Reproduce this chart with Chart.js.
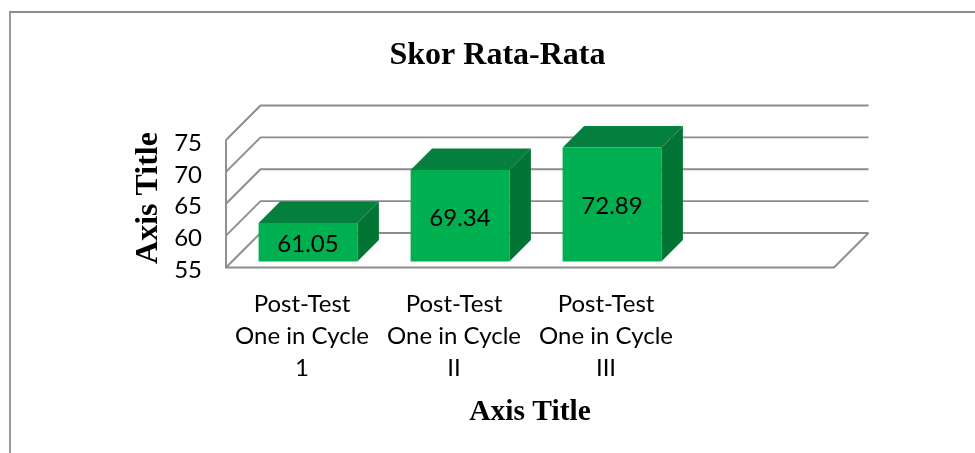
<!DOCTYPE html>
<html>
<head>
<meta charset="utf-8">
<script src="https://cdn.jsdelivr.net/npm/chart.js@4"></script>
<style>
    html, body { margin: 0; padding: 0; background: #fff; overflow: hidden; }
    #frame { position: absolute; left: 9px; top: 11px; right: 0; bottom: 0; border-left: 2px solid #999; border-top: 2px solid #8c8c8c; }
    #chart { position: absolute; left: 0; top: 0; }
</style>
</head>
<body>
<div id="frame"></div>
<canvas id="chart" width="975" height="453"></canvas>
<script>
const categories = [
    ['Post-Test', 'One in Cycle', '1'],
    ['Post-Test', 'One in Cycle', 'II'],
    ['Post-Test', 'One in Cycle', 'III'],
    ''
];
const scores = [61.05, 69.34, 72.89, null];
const yMin = 55;
const yMax = 75;
const yStep = 5;

const WALL_DEPTH = 34.5;
const BAR_INSET = 6;
const BAR_DEPTH = 21.5;
const GRID_COLOR = '#8c8c8c';

function poly(ctx, pts, color) {
    ctx.beginPath();
    ctx.moveTo(pts[0][0], pts[0][1]);
    pts.slice(1).forEach((p) => ctx.lineTo(p[0], p[1]));
    ctx.closePath();
    ctx.fillStyle = color;
    ctx.fill();
}

// Chart.js has no 3D bars, so walls and bar sides are added around the normal bars
const box3d = {
    id: 'box3d',
    afterLayout(chart) {
        // title is centred on the whole picture, not on the padded area
        chart.titleBlock.left = 20;
        chart.titleBlock.right = 975;
        // y tick labels sit slightly under their gridline start
        chart.scales.y.getLabelItems().forEach((item) => {
            item.options.translation[1] += 3;
        });
    },
    beforeDatasetsDraw(chart) {
        const ctx = chart.ctx;
        const a = chart.chartArea;
        const y = chart.scales.y;
        ctx.save();
        ctx.strokeStyle = GRID_COLOR;
        ctx.lineWidth = 1.9;
        y.ticks.forEach((t) => {
            const py = y.getPixelForValue(t.value);
            ctx.beginPath();
            ctx.moveTo(a.left, py);
            ctx.lineTo(a.left + WALL_DEPTH, py - WALL_DEPTH);
            ctx.lineTo(a.right + WALL_DEPTH, py - WALL_DEPTH);
            ctx.stroke();
        });
        // left edge and floor
        ctx.beginPath();
        ctx.moveTo(a.left, a.top);
        ctx.lineTo(a.left, a.bottom);
        ctx.lineTo(a.right, a.bottom);
        ctx.lineTo(a.right + WALL_DEPTH, a.bottom - WALL_DEPTH);
        ctx.stroke();

        chart.getDatasetMeta(0).data.forEach((bar, i) => {
            if (scores[i] === null) return;
            const l = bar.x - bar.width / 2 + BAR_INSET;
            const r = bar.x + bar.width / 2 + BAR_INSET;
            const t = bar.y - BAR_INSET;
            const b = bar.base - BAR_INSET;
            poly(ctx, [[l, t], [r, t], [r + BAR_DEPTH, t - BAR_DEPTH], [l + BAR_DEPTH, t - BAR_DEPTH]], '#047f3e');
            poly(ctx, [[r, t], [r + BAR_DEPTH, t - BAR_DEPTH], [r + BAR_DEPTH, b - BAR_DEPTH], [r, b]], '#027434');
        });
        ctx.restore();
        ctx.save();
        ctx.translate(BAR_INSET, -BAR_INSET);
    },
    afterDatasetsDraw(chart) {
        const ctx = chart.ctx;
        ctx.restore();
        ctx.save();
        ctx.fillStyle = '#000';
        ctx.font = '24px Lato';
        ctx.textAlign = 'center';
        ctx.textBaseline = 'middle';
        chart.getDatasetMeta(0).data.forEach((bar, i) => {
            if (scores[i] === null) return;
            ctx.fillText(scores[i].toFixed(2), bar.x + BAR_INSET, (bar.y + bar.base) / 2 - BAR_INSET + 2);
        });
        // y title sits a bit above the axis middle
        ctx.font = 'bold 32px "Liberation Serif"';
        ctx.translate(149, 198);
        ctx.rotate(-Math.PI / 2);
        ctx.fillText('Axis Title', 0, 0);
        ctx.restore();
    }
};

new Chart(document.getElementById('chart'), {
    type: 'bar',
    data: {
        labels: categories,
        datasets: [{
            data: scores,
            base: yMin,
            backgroundColor: '#00b050',
            barPercentage: 0.65,
            categoryPercentage: 1,
            clip: false
        }]
    },
    options: {
        responsive: false,
        animation: false,
        layout: { padding: { left: 0, right: 141, top: 0, bottom: 0 } },
        plugins: {
            legend: { display: false },
            tooltip: { enabled: false },
            title: {
                display: true,
                text: 'Skor Rata-Rata',
                color: '#000',
                font: { family: 'Liberation Serif', size: 32, weight: 'bold', lineHeight: 1.2 },
                padding: { top: 36.5, bottom: 65.1 }
            }
        },
        scales: {
            x: {
                grid: { display: false },
                border: { display: false },
                ticks: {
                    color: '#000',
                    maxRotation: 0,
                    autoSkip: false,
                    padding: 13,
                    font: { family: 'Lato', size: 24, lineHeight: 1.335 }
                },
                title: {
                    display: true,
                    text: 'Axis Title',
                    color: '#000',
                    font: { family: 'Liberation Serif', size: 29.5, weight: 'bold', lineHeight: 1.2 },
                    padding: { top: 0, bottom: 23 }
                },
                afterFit(scale) { scale.height = 185.5; }
            },
            y: {
                min: yMin,
                max: yMax,
                grid: { display: false },
                border: { display: false },
                ticks: {
                    stepSize: yStep,
                    color: '#000',
                    padding: 16,
                    font: { family: 'Lato', size: 24 }
                },
                afterFit(scale) { scale.width = 226; }
            }
        }
    },
    plugins: [box3d]
});
</script>
</body>
</html>
